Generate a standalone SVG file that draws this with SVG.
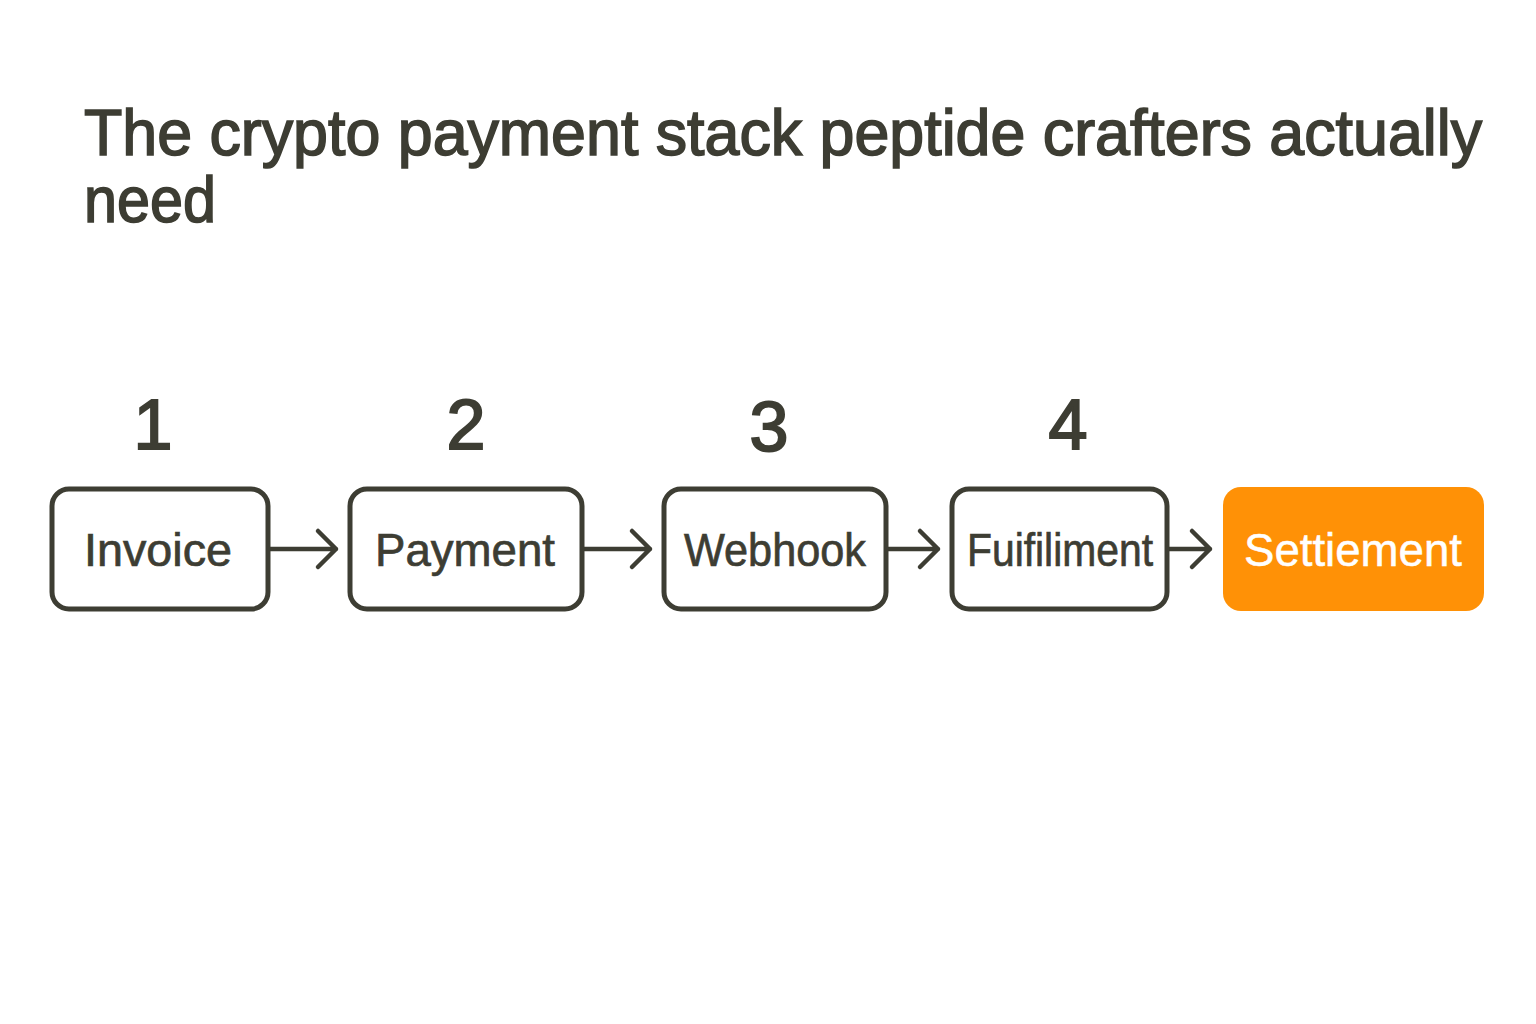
<svg xmlns="http://www.w3.org/2000/svg" width="1536" height="1024" viewBox="0 0 1536 1024">
<style>
.t{font-family:"Liberation Sans",Arial,sans-serif;fill:#3d3d33}
.title{font-size:64px;stroke:#3d3d33;stroke-width:1.6}
.num{font-size:70px;stroke:#3d3d33;stroke-width:2}
.lbl{font-size:46px;stroke:#3d3d33;stroke-width:0.7}
.box{fill:#fff;stroke:#3d3d33;stroke-width:5}
.conn{fill:none;stroke:#3d3d33;stroke-width:4.5;stroke-linecap:round;stroke-linejoin:round}
</style>
<rect width="1536" height="1024" fill="#fff"/>
<g id="title">
<text class="t title" x="84" y="155" textLength="1398" lengthAdjust="spacingAndGlyphs">The crypto payment stack peptide crafters actually</text>
<text class="t title" x="84" y="222" textLength="132" lengthAdjust="spacingAndGlyphs">need</text>
</g>
<g id="numbers">
<text class="t num" x="153" y="449" text-anchor="middle">1</text>
<text class="t num" x="466" y="449" text-anchor="middle">2</text>
<text class="t num" x="769" y="451" text-anchor="middle">3</text>
<text class="t num" x="1068" y="449" text-anchor="middle">4</text>
</g>
<g id="connectors">
<path class="conn" d="M268 549H336M318 531L336 549L318 567"/>
<path class="conn" d="M582 549H650M632 531L650 549L632 567"/>
<path class="conn" d="M886 549H938M920 531L938 549L920 567"/>
<path class="conn" d="M1167 549H1210M1192 531L1210 549L1192 567"/>
</g>
<g id="node-invoice">
<rect class="box" x="52" y="489" width="216" height="120" rx="17"/>
<text class="t lbl" x="158" y="566" text-anchor="middle" textLength="148" lengthAdjust="spacingAndGlyphs">Invoice</text>
</g>
<g id="node-payment">
<rect class="box" x="350" y="489" width="232" height="120" rx="17"/>
<text class="t lbl" x="465" y="566" text-anchor="middle" textLength="180" lengthAdjust="spacingAndGlyphs">Payment</text>
</g>
<g id="node-webhook">
<rect class="box" x="664" y="489" width="222" height="120" rx="17"/>
<text class="t lbl" x="775" y="566" text-anchor="middle" textLength="182" lengthAdjust="spacingAndGlyphs">Webhook</text>
</g>
<g id="node-fulfilment">
<rect class="box" x="952" y="489" width="215" height="120" rx="17"/>
<text class="t lbl" x="1060" y="566" text-anchor="middle" textLength="186" lengthAdjust="spacingAndGlyphs">Fuifiliment</text>
</g>
<g id="node-settlement">
<rect x="1223" y="487" width="261" height="124" rx="18" fill="#ff9106"/>
<text class="t lbl" x="1353" y="566" text-anchor="middle" textLength="218" lengthAdjust="spacingAndGlyphs" style="fill:#fff;stroke:#fff;stroke-width:0.5">Settiement</text>
</g>
</svg>
